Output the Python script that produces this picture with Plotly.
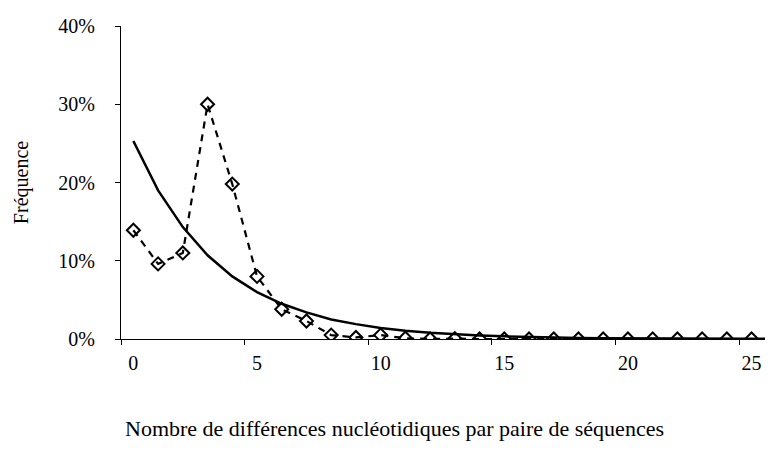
import plotly.graph_objects as go

categories = list(range(27))
observed = [13.9, 9.6, 11.0, 30.0, 19.8, 8.0, 3.8, 2.3, 0.5, 0.2, 0.5, 0.1, 0.0, 0.05,
            0.0, 0.0, 0.0, 0.0, 0.0, 0.0, 0.0, 0.0, 0.0, 0.0, 0.0, 0.0, 0.0]
theoretical = [25.3, 19.0, 14.3, 10.7, 8.0, 6.0, 4.5, 3.4, 2.5, 1.9, 1.4, 1.05, 0.8, 0.6,
               0.45, 0.34, 0.25, 0.19, 0.14, 0.11, 0.08, 0.06, 0.05, 0.04, 0.03, 0.02, 0.02]
x_tick_vals = [0, 5, 10, 15, 20, 25]
y_tick_vals = [0, 10, 20, 30, 40]
y_tick_text = ["0%", "10%", "20%", "30%", "40%"]
x_title = "Nombre de différences nucléotidiques par paire de séquences"
y_title = "Fréquence"

FONT = "Liberation Serif"
W, H = 773, 450
ML, MT, MB = 112.6, 18, 118.5

fig = go.Figure()
fig.add_trace(go.Scatter(
    x=categories, y=theoretical, mode="lines",
    line=dict(color="black", width=2.5), showlegend=False, hoverinfo="skip"))
fig.add_trace(go.Scatter(
    x=categories, y=observed, mode="lines+markers",
    line=dict(color="black", width=2.2, dash="7px,6px"),
    marker=dict(symbol="diamond-open", size=10, color="black", line=dict(width=2, color="black")),
    showlegend=False))

plot_w = W - ML
plot_h = H - MT - MB
fig.add_annotation(
    text=x_title, xref="paper", yref="paper",
    x=(W / 2 - ML) / plot_w, y=-(408 - (H - MB)) / plot_h,
    xanchor="center", yanchor="top", showarrow=False,
    borderpad=0,
    font=dict(family=FONT, size=22, color="black"))

fig.update_layout(
    width=W, height=H,
    margin=dict(l=ML, r=0, t=MT, b=MB, autoexpand=False),
    paper_bgcolor="white", plot_bgcolor="white",
    font=dict(family=FONT, size=20, color="black"),
    xaxis=dict(
        range=[-0.5, 26.19], tickmode="array", tickvals=x_tick_vals,
        ticks="", showgrid=False, zeroline=False,
        showline=True, linecolor="black", linewidth=1,
        ticklabelstandoff=6,
        tickfont=dict(family=FONT, size=20),
        minor=dict(tick0=-0.5, dtick=5, ticks="outside", ticklen=5, tickcolor="black", tickwidth=1, showgrid=False),
        automargin=False,
    ),
    yaxis=dict(
        range=[0, 40], tickmode="array", tickvals=y_tick_vals, ticktext=y_tick_text,
        ticks="outside", ticklen=5, tickcolor="black", tickwidth=1,
        showgrid=False, zeroline=False,
        showline=True, linecolor="black", linewidth=1,
        ticklabelstandoff=16,
        tickfont=dict(family=FONT, size=20),
        title=dict(text=y_title, font=dict(family=FONT, size=20), standoff=24),
        automargin=False,
    ),
)

fig.write_html("out.html")
